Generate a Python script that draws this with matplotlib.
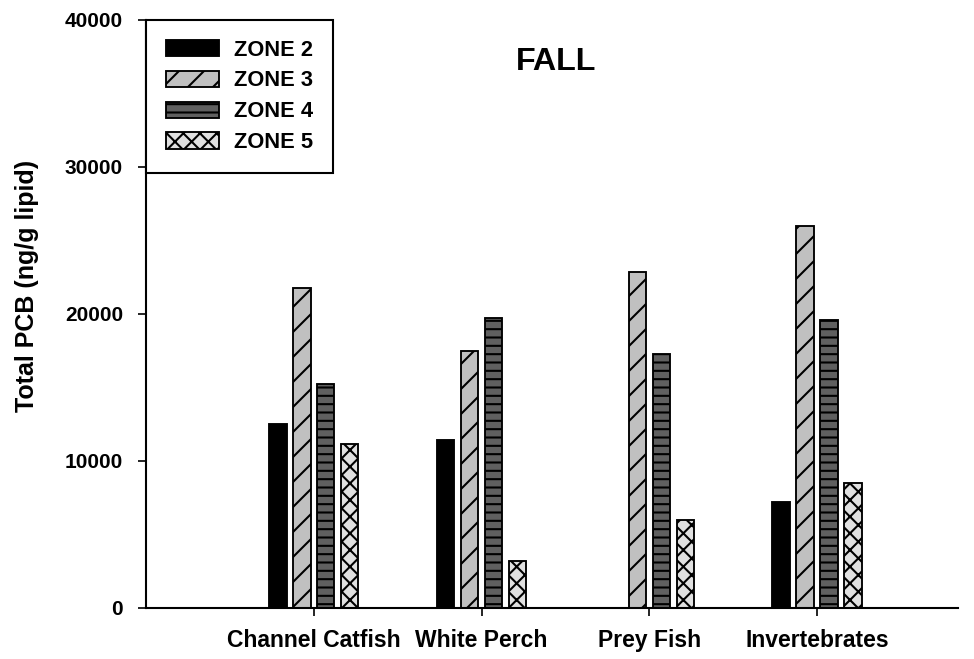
import numpy as np
import matplotlib
matplotlib.use("Agg")
import matplotlib.pyplot as plt

categories = ["Channel Catfish", "White Perch", "Prey Fish", "Invertebrates"]
zone_names = ["ZONE 2", "ZONE 3", "ZONE 4", "ZONE 5"]

zone2 = [12500, 11450, 0, 7200]
zone3 = [21800, 17500, 22850, 26000]
zone4 = [15250, 19750, 17300, 19600]
zone5 = [11150, 3200, 6000, 8500]

yticks = [0, 10000, 20000, 30000, 40000]


def main():

    plt.rcParams["font.family"] = ["Liberation Sans", "DejaVu Sans"]
    plt.rcParams["font.weight"] = "bold"
    plt.rcParams["hatch.linewidth"] = 1.0

    fig = plt.figure(figsize=(974 / 150, 659 / 150), dpi=150)
    ax = fig.add_axes([0.1499, 0.0774, 0.8337, 0.8923])

    series = [zone2, zone3, zone4, zone5]
    fills = ["black", "#c0c0c0", "#606060", "#e0e0e0"]
    hatches = [None, "//", "---", "xxx"]

    x = np.arange(1, len(categories) + 1)
    step = 0.143
    width = 0.104

    for i, (vals, fc, h, name) in enumerate(zip(series, fills, hatches, zone_names)):

        ax.bar(x + (i - 1.5) * step, vals, width=width, color=fc,
               edgecolor="black", linewidth=0.9, hatch=h, label=name)

    ax.set_xlim(0.0, 4.84)
    ax.set_ylim(0, 40000)
    ax.set_xticks(x)
    ax.set_xticklabels(categories, fontsize=11, fontweight="bold")
    ax.set_yticks(yticks)
    ax.set_yticklabels([str(v) for v in yticks], fontsize=10, fontweight="bold")

    ax.spines["top"].set_visible(False)
    ax.spines["right"].set_visible(False)
    ax.spines["left"].set_linewidth(1.0)
    ax.spines["bottom"].set_linewidth(1.0)
    ax.tick_params(axis="both", direction="out", length=4, width=0.8)
    ax.tick_params(axis="y", pad=7)
    ax.tick_params(axis="x", pad=6)

    ax.text(0.505, 0.929, "FALL", transform=ax.transAxes, fontsize=15.5,
            fontweight="bold", ha="center", va="center")

    fig.text(0.028, 0.566, "Total PCB (ng/g lipid)", rotation=90,
             fontsize=12, fontweight="bold", ha="center", va="center")

    leg = ax.legend(loc="upper left", bbox_to_anchor=(0, 1), borderaxespad=0,
                    fancybox=False, framealpha=1, edgecolor="black",
                    prop={"size": 10.5, "weight": "bold"},
                    handlelength=2.42, handleheight=0.78, handletextpad=0.69,
                    labelspacing=0.45, borderpad=0.9)
    leg.get_frame().set_linewidth(1.0)

    fig.savefig("out.png", dpi=150)
    plt.close(fig)

    return


if __name__ == "__main__":

    main()
